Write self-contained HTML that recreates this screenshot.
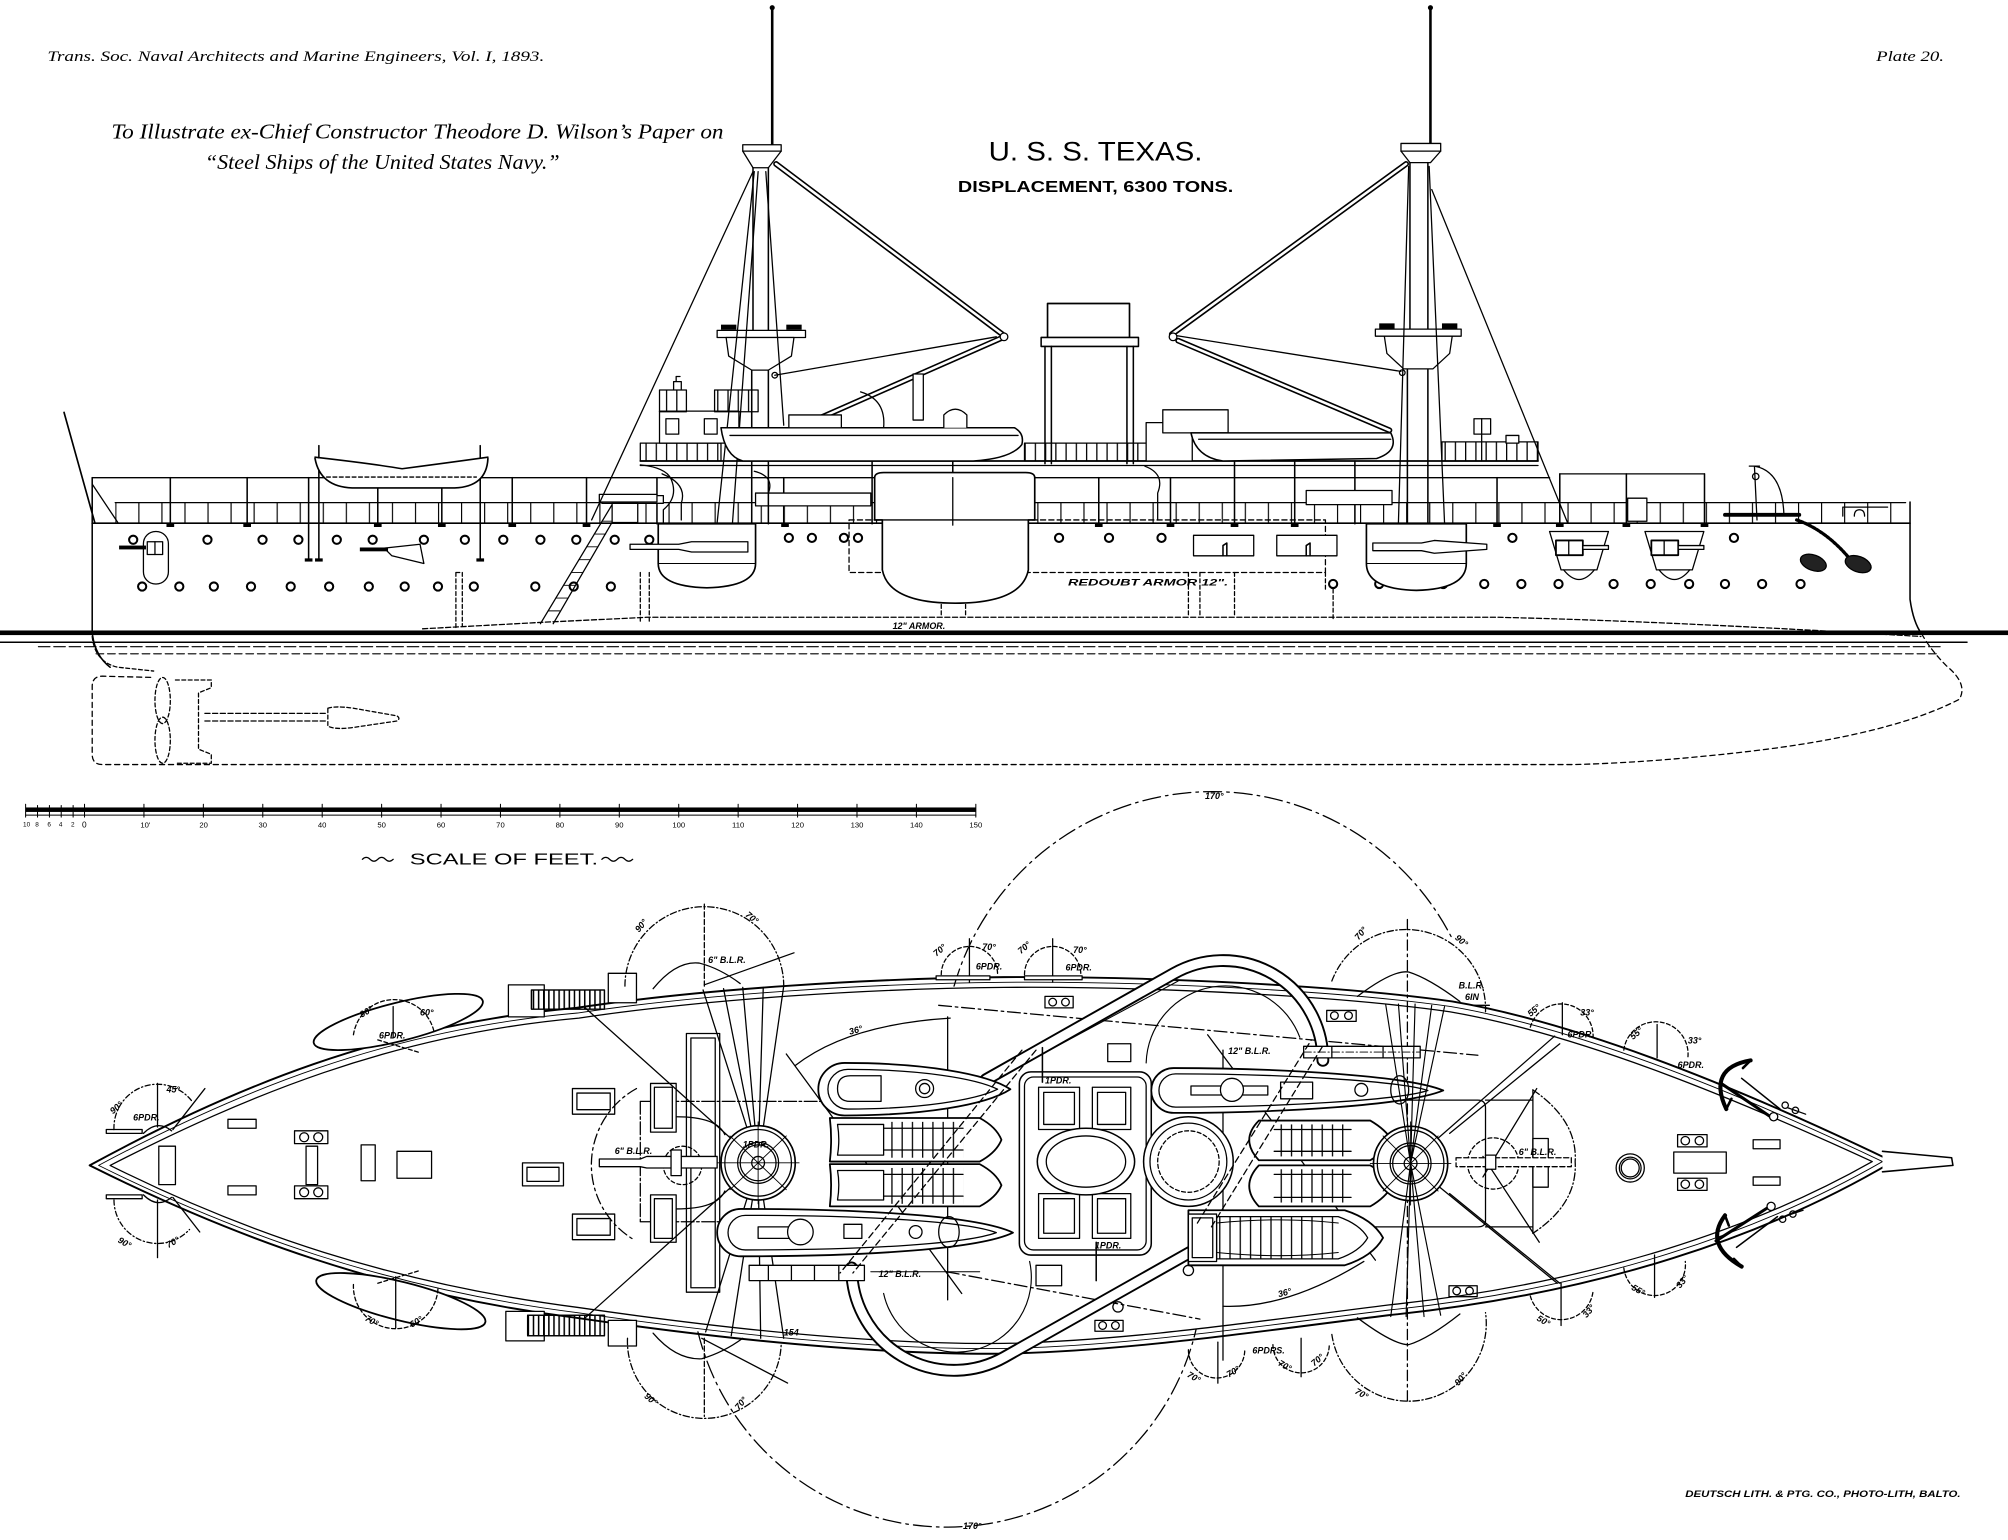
<!DOCTYPE html>
<html><head><meta charset="utf-8"><title>U.S.S. Texas - Plate 20</title>
<style>
html,body{margin:0;padding:0;background:#fff;}
svg{display:block;}
.sr{font-family:"Liberation Serif",serif;font-style:italic;fill:#000;stroke:none;}
.ss{font-family:"Liberation Sans",sans-serif;fill:#000;stroke:none;}
.lb{font-family:"Liberation Sans",sans-serif;font-style:italic;font-weight:bold;font-size:7px;fill:#000;stroke:none;}
.sc{font-family:"Liberation Sans",sans-serif;font-size:6px;fill:#000;stroke:none;}
</style></head><body>
<svg width="2008" height="1540" viewBox="0 0 1568 1202.5" preserveAspectRatio="none" xmlns="http://www.w3.org/2000/svg">
<defs>
<pattern id="vg" width="18" height="40" patternUnits="userSpaceOnUse"><rect x="0" y="0" width="0.9" height="40" fill="#000"/></pattern>
<pattern id="vg2" width="8" height="40" patternUnits="userSpaceOnUse"><rect x="0" y="0" width="1" height="40" fill="#000"/></pattern>
<pattern id="vg3" width="4" height="40" patternUnits="userSpaceOnUse"><rect x="0" y="0" width="1.2" height="40" fill="#000"/></pattern>
</defs>
<rect x="0" y="0" width="1568" height="1202.5" fill="#fff"/>

<!-- ================= HEADER TEXT ================= -->
<text class="sr" x="37" y="47.5" font-size="11.5" textLength="388" lengthAdjust="spacingAndGlyphs">Trans. Soc. Naval Architects and Marine Engineers, Vol. I, 1893.</text>
<text class="sr" x="1465" y="47.5" font-size="11.5" textLength="53" lengthAdjust="spacingAndGlyphs">Plate 20.</text>
<text class="sr" x="87" y="108" font-size="16.5" textLength="478" lengthAdjust="spacingAndGlyphs">To Illustrate ex-Chief Constructor Theodore D. Wilson’s Paper on</text>
<text class="sr" x="160" y="132" font-size="16.5" textLength="277" lengthAdjust="spacingAndGlyphs">“Steel Ships of the United States Navy.”</text>
<text class="ss" x="772" y="125.5" font-size="21" textLength="167" lengthAdjust="spacingAndGlyphs">U. S. S. TEXAS.</text>
<text class="ss" x="748" y="150" font-size="12.5" font-weight="bold" textLength="215" lengthAdjust="spacingAndGlyphs">DISPLACEMENT, 6300 TONS.</text>

<g fill="none" stroke="#000" stroke-width="1" stroke-linecap="round" stroke-linejoin="round">

<!-- ================= SIDE ELEVATION ================= -->
<rect x="0" y="492.3" width="1568" height="3.6" fill="#000" stroke="none"/>
<line x1="0" y1="501.5" x2="1536" y2="501.5" stroke-width="1.1"/>
<line x1="30" y1="505" x2="1515" y2="505" stroke-dasharray="9 3" stroke-width="0.9"/>
<line x1="75" y1="510.5" x2="1512" y2="510.5" stroke-dasharray="6 3" stroke-width="0.9"/>

<path d="M1500.6,495 Q1508,508 1520,520 Q1537,534 1530,546 Q1480,572 1380,585 Q1300,595 1230,597 L80,597 Q72,597 72,589 L72,536 Q72,528 80,528 L120,529" stroke-dasharray="4 3"/>
<path d="M72,497 Q74,517 92,521 L120,524" stroke-dasharray="3 2"/>
<ellipse cx="127" cy="547" rx="6" ry="18" stroke-dasharray="3 2"/>
<ellipse cx="127" cy="578" rx="6" ry="18" stroke-dasharray="3 2"/>
<path d="M137,531 L165,531 L165,537 L155,541 L155,585 L165,589 L165,596 L137,596" stroke-dasharray="3 2"/>
<line x1="160" y1="557" x2="256" y2="557" stroke-dasharray="4 2"/>
<line x1="160" y1="563" x2="256" y2="563" stroke-dasharray="4 2"/>
<path d="M256,553 Q262,551 276,553 L310,559 Q313,561 310,563 L276,568 Q262,570 256,567 Z" stroke-dasharray="3 2"/>

<path d="M72,373 L72,494 Q74,512 86,521" stroke-width="1.2"/>
<path d="M1491.5,392 L1491.5,468 Q1494,486 1500.6,495" stroke-width="1.2"/>
<line x1="72" y1="373" x2="1210" y2="373" stroke-width="1.1"/>
<line x1="1218" y1="370" x2="1331" y2="370"/>
<line x1="90" y1="392.5" x2="1488" y2="392.5"/>
<line x1="72" y1="408.5" x2="1491.5" y2="408.5" stroke-width="1.3"/>
<rect x="90" y="392.5" width="1398" height="16" fill="url(#vg)" stroke="none"/>
<g stroke-width="1.2">
<line x1="133" y1="373" x2="133" y2="409"/><line x1="193" y1="373" x2="193" y2="409"/>
<line x1="241" y1="373" x2="241" y2="437"/><line x1="249" y1="348" x2="249" y2="437"/>
<line x1="295" y1="373" x2="295" y2="409"/><line x1="345" y1="373" x2="345" y2="409"/>
<line x1="375" y1="348" x2="375" y2="437"/><line x1="400" y1="373" x2="400" y2="409"/>
<line x1="458" y1="373" x2="458" y2="409"/><line x1="513" y1="373" x2="513" y2="409"/>
<line x1="612" y1="373" x2="612" y2="409"/><line x1="681" y1="360" x2="681" y2="409"/>
<line x1="744" y1="360" x2="744" y2="409"/><line x1="800" y1="373" x2="800" y2="409"/>
<line x1="858" y1="373" x2="858" y2="409"/><line x1="914" y1="373" x2="914" y2="409"/>
<line x1="964" y1="360" x2="964" y2="409"/><line x1="1011" y1="360" x2="1011" y2="409"/>
<line x1="1058" y1="360" x2="1058" y2="409"/><line x1="1169" y1="373" x2="1169" y2="409"/>
<line x1="1218" y1="370" x2="1218" y2="409"/><line x1="1270" y1="370" x2="1270" y2="409"/>
<line x1="1331" y1="370" x2="1331" y2="409"/>
</g>
<g fill="#000" stroke="none">
<rect x="130" y="409" width="6" height="2.5"/><rect x="190" y="409" width="6" height="2.5"/><rect x="238" y="436" width="6" height="2.5"/><rect x="246" y="436" width="6" height="2.5"/><rect x="292" y="409" width="6" height="2.5"/><rect x="342" y="409" width="6" height="2.5"/><rect x="372" y="436" width="6" height="2.5"/><rect x="397" y="409" width="6" height="2.5"/><rect x="455" y="409" width="6" height="2.5"/><rect x="610" y="409" width="6" height="2.5"/><rect x="855" y="409" width="6" height="2.5"/><rect x="911" y="409" width="6" height="2.5"/><rect x="961" y="409" width="6" height="2.5"/><rect x="1008" y="409" width="6" height="2.5"/><rect x="1166" y="409" width="6" height="2.5"/><rect x="1215" y="409" width="6" height="2.5"/><rect x="1267" y="409" width="6" height="2.5"/><rect x="1328" y="409" width="6" height="2.5"/>
</g>

<line x1="50" y1="322" x2="74" y2="408" stroke-width="1.3"/>
<line x1="72" y1="378" x2="92" y2="408"/>

<g fill="#fff" stroke-width="1.6">
<circle cx="104" cy="421.5" r="3.2"/><circle cx="162" cy="421.5" r="3.2"/><circle cx="205" cy="421.5" r="3.2"/><circle cx="233" cy="421.5" r="3.2"/><circle cx="263" cy="421.5" r="3.2"/><circle cx="291" cy="421.5" r="3.2"/><circle cx="331" cy="421.5" r="3.2"/><circle cx="363" cy="421.5" r="3.2"/><circle cx="393" cy="421.5" r="3.2"/><circle cx="422" cy="421.5" r="3.2"/><circle cx="450" cy="421.5" r="3.2"/><circle cx="480" cy="421.5" r="3.2"/><circle cx="507" cy="421.5" r="3.2"/><circle cx="616" cy="420" r="3.2"/><circle cx="634" cy="420" r="3.2"/><circle cx="659" cy="420" r="3.2"/><circle cx="670" cy="420" r="3.2"/><circle cx="827" cy="420" r="3.2"/><circle cx="866" cy="420" r="3.2"/><circle cx="907" cy="420" r="3.2"/><circle cx="1181" cy="420" r="3.2"/><circle cx="1354" cy="420" r="3.2"/>
<circle cx="111" cy="458" r="3.2"/><circle cx="140" cy="458" r="3.2"/><circle cx="167" cy="458" r="3.2"/><circle cx="196" cy="458" r="3.2"/><circle cx="227" cy="458" r="3.2"/><circle cx="257" cy="458" r="3.2"/><circle cx="288" cy="458" r="3.2"/><circle cx="316" cy="458" r="3.2"/><circle cx="342" cy="458" r="3.2"/><circle cx="370" cy="458" r="3.2"/><circle cx="418" cy="458" r="3.2"/><circle cx="448" cy="458" r="3.2"/><circle cx="477" cy="458" r="3.2"/>
<circle cx="1041" cy="456" r="3.2"/><circle cx="1077" cy="456" r="3.2"/><circle cx="1108" cy="456" r="3.2"/><circle cx="1127" cy="456" r="3.2"/><circle cx="1159" cy="456" r="3.2"/><circle cx="1188" cy="456" r="3.2"/><circle cx="1217" cy="456" r="3.2"/><circle cx="1260" cy="456" r="3.2"/><circle cx="1289" cy="456" r="3.2"/><circle cx="1319" cy="456" r="3.2"/><circle cx="1347" cy="456" r="3.2"/><circle cx="1376" cy="456" r="3.2"/><circle cx="1406" cy="456" r="3.2"/>
</g>

<rect x="112" y="415" width="19.5" height="41" rx="9.5" fill="#fff"/>
<rect x="93" y="426" width="21" height="3" fill="#000" stroke="none"/>
<rect x="115" y="423" width="12" height="10" fill="#fff"/>
<line x1="121" y1="423" x2="121" y2="433"/>
<path d="M300,428 L328,425 L331,440 L306,434 Z" fill="#fff"/>
<rect x="281" y="427.5" width="22" height="3" fill="#000" stroke="none"/>

<line x1="422" y1="487" x2="478" y2="394"/>
<line x1="432" y1="487" x2="486" y2="394"/>
<path d="M428,477 L437,477 M434,467 L443,467 M440,457 L449,457 M446,447 L455,447 M452,437 L461,437 M458,427 L467,427 M464,417 L473,417 M470,407 L479,407" stroke-width="0.7"/>
<rect x="470" y="387" width="48" height="6" fill="#fff"/>
<rect x="478" y="393" width="20" height="15" fill="#fff"/>
<path d="M500,363 Q520,365 524,374 Q530,388 518,398 L518,408"/>

<path d="M330,491 L422,486 L505,482 L1170,482 Q1300,485 1500,497" stroke-dasharray="4 2"/>
<rect x="663" y="406" width="372" height="41" stroke-dasharray="4 2.5"/>
<path d="M356,447 L356,490 M361,447 L361,489 M356,447 L361,447 M500,447 L500,485 M507,447 L507,485 M735,447 L735,482 M754,447 L754,482 M928,447 L928,482 M937,447 L937,482 M964,447 L964,482 M1041,460 L1041,485 M1035,447 L1035,460" stroke-dasharray="3 2"/>
<text class="lb" x="697" y="491">12" ARMOR.</text>
<text class="lb" x="834" y="457" font-size="8" textLength="125" lengthAdjust="spacingAndGlyphs">REDOUBT ARMOR 12".</text>

<path d="M246,358 Q250,380 275,381 L355,381 Q380,380 381,358" fill="#fff" stroke-width="1.3"/>
<path d="M246,357 Q290,362 314,366 Q345,362 381,357" stroke-width="1.2"/>
<line x1="255" y1="372.5" x2="372" y2="372.5" stroke-dasharray="3 2"/>

<line x1="500" y1="360" x2="1201" y2="360" stroke-width="1.4"/>
<line x1="500" y1="363.5" x2="1201" y2="363.5"/>
<rect x="500" y="346" width="63" height="14" fill="url(#vg2)"/>
<rect x="800" y="346" width="95" height="14" fill="url(#vg2)"/>
<rect x="1126" y="345" width="75" height="15" fill="url(#vg2)"/>
<rect x="515" y="321" width="62" height="25" fill="#fff"/>
<rect x="520" y="327" width="10" height="12"/><rect x="550" y="327" width="10" height="12"/>
<rect x="515" y="304.5" width="21" height="17" fill="url(#vg2)"/>
<rect x="558" y="304.5" width="34" height="17" fill="url(#vg2)"/>
<path d="M526,304 L526,298 L532,298 L532,304 M528,298 L528,294 L531,294"/>
<path d="M589,368 Q605,372 600,385 M894,364 Q910,370 904,385 L904,406 M517,370 Q537,378 532,393 L532,406" />
<rect x="590" y="385" width="90" height="10" fill="#fff"/>
<rect x="468" y="386" width="45" height="6" fill="#fff"/>
<rect x="1020" y="383" width="67" height="11" fill="#fff"/>

<rect x="818" y="237" width="64" height="27" fill="#fff" stroke-width="1.3"/>
<rect x="813" y="263.5" width="76" height="7" fill="#fff" stroke-width="1.2"/>
<path d="M816,270.5 L816,362 M821,270.5 L821,362 M880,270.5 L880,362 M885,270.5 L885,362" stroke-width="1.2"/>

<!-- aft mast -->
<line x1="603" y1="6" x2="603" y2="113" stroke-width="2"/>
<circle cx="603" cy="6" r="1.5" fill="#000"/>
<path d="M580,113 L610,113 L610,118 L600,131 L588,131 L580,118 Z" fill="#fff"/>
<line x1="580" y1="118" x2="610" y2="118"/>
<path d="M588,131 L588,260 M600,131 L600,260 M587,289 L587,409 M600,289 L600,409" stroke-width="1.2"/>
<rect x="560" y="258" width="69" height="5.5" fill="#fff"/>
<path d="M567,263.5 L620,263.5 L618,278 L600,289 L587,289 L569,278 Z" fill="#fff"/>
<rect x="563" y="253.5" width="12" height="4" fill="#000" stroke="none"/><rect x="614" y="253.5" width="12" height="4" fill="#000" stroke="none"/>
<line x1="588" y1="134" x2="462" y2="406"/>
<line x1="589" y1="134" x2="560" y2="408"/><line x1="592" y1="134" x2="572" y2="408"/>
<line x1="598" y1="134" x2="612" y2="332"/>
<line x1="606" y1="128" x2="784" y2="262" stroke-width="4.5"/>
<line x1="606" y1="128" x2="784" y2="262" stroke-width="2" stroke="#fff"/>
<line x1="632" y1="330" x2="782" y2="264" stroke-width="4.5"/>
<line x1="632" y1="330" x2="782" y2="264" stroke-width="2" stroke="#fff"/>
<line x1="778" y1="263" x2="605" y2="293"/>
<circle cx="784" cy="263" r="3" fill="#fff"/>
<circle cx="605" cy="293" r="2.2"/>

<!-- fwd mast -->
<line x1="1117" y1="6" x2="1117" y2="112" stroke-width="2"/>
<circle cx="1117" cy="6" r="1.5" fill="#000"/>
<path d="M1094,112 L1125,112 L1125,118 L1117,127 L1101,127 L1094,118 Z" fill="#fff"/>
<line x1="1094" y1="118" x2="1125" y2="118"/>
<path d="M1101,127 L1101,258 M1115,127 L1115,258 M1099,288 L1099,409 M1115,288 L1115,409" stroke-width="1.2"/>
<rect x="1074" y="257" width="67" height="5.5" fill="#fff"/>
<path d="M1081,262.5 L1134,262.5 L1132,276 L1119,288 L1096,288 L1083,276 Z" fill="#fff"/>
<rect x="1077" y="252.5" width="12" height="4" fill="#000" stroke="none"/><rect x="1126" y="252.5" width="12" height="4" fill="#000" stroke="none"/>
<line x1="1118" y1="148" x2="1224" y2="408"/>
<line x1="1100" y1="130" x2="1092" y2="408"/><line x1="1116" y1="130" x2="1128" y2="408"/>
<line x1="1098" y1="128" x2="915" y2="261" stroke-width="4.5"/>
<line x1="1098" y1="128" x2="915" y2="261" stroke-width="2" stroke="#fff"/>
<line x1="920" y1="266" x2="1085" y2="336" stroke-width="4.5"/>
<line x1="920" y1="266" x2="1085" y2="336" stroke-width="2" stroke="#fff"/>
<line x1="918" y1="262" x2="1094" y2="290"/>
<circle cx="916" cy="263" r="3" fill="#fff"/>
<circle cx="1095" cy="291" r="2.2"/>

<path d="M563,334 L792,334 Q800,338 798,347 Q790,358 760,360 L580,360 Q566,356 563,334 Z" fill="#fff" stroke-width="1.2"/>
<line x1="570" y1="340" x2="795" y2="340"/>
<rect x="616" y="324" width="41" height="10" fill="#fff"/>
<rect x="713" y="292" width="8" height="36" fill="#fff"/>
<path d="M737,334 L737,324 Q746,315 755,324 L755,334" fill="#fff"/>
<path d="M672,306 Q692,312 690,334"/>
<rect x="895" y="330" width="36" height="30" fill="#fff"/>
<rect x="908" y="320" width="51" height="18" fill="#fff"/>
<path d="M930,338 L1086,338 Q1093,352 1075,358 L955,360 Q934,357 930,338 Z" fill="#fff" stroke-width="1.2"/>
<line x1="936" y1="343" x2="1086" y2="343"/>
<rect x="1151" y="327" width="13" height="12" fill="#fff"/><line x1="1157" y1="327" x2="1157" y2="360"/>
<rect x="1176" y="340" width="10" height="6" fill="#fff"/>

<path d="M514,409 L590,409 L590,440 Q590,458 552,459 Q514,458 514,440 Z" fill="#fff" stroke-width="1.3"/>
<line x1="514" y1="440" x2="590" y2="440" stroke-width="0.7"/>
<path d="M492,425 L530,425 L540,423 L584,423 L584,431 L540,431 L530,429 L492,429 Z" fill="#fff"/>
<path d="M683,373 Q683,369 690,369 L801,369 Q808,369 808,373 L808,406 L803,406 L803,445 Q798,471 746,471 Q694,471 689,445 L689,406 L683,406 Z" fill="#fff" stroke-width="1.3"/>
<line x1="683" y1="406" x2="808" y2="406"/>
<line x1="744" y1="373" x2="744" y2="410"/>
<path d="M1067,409 L1145,409 L1145,440 Q1145,460 1106,461 Q1067,460 1067,440 Z" fill="#fff" stroke-width="1.3"/>
<line x1="1067" y1="440" x2="1145" y2="440" stroke-width="0.7"/>
<path d="M1072,424 L1110,424 L1120,422 L1161,425 L1161,429 L1120,432 L1110,430 L1072,430 Z" fill="#fff"/>
<rect x="932" y="418" width="47" height="16" fill="#fff"/><path d="M955,434 L955,426 L958,424 L958,434" stroke-width="1.2"/>
<rect x="997" y="418" width="47" height="16" fill="#fff"/><path d="M1020,434 L1020,426 L1023,424 L1023,434" stroke-width="1.2"/>
<path d="M1210,415 L1256,415 L1247,445 L1219,445 Z" fill="#fff"/>
<path d="M1221,445 Q1233,460 1245,445"/>
<rect x="1215" y="422" width="21" height="11.5" fill="#fff" stroke-width="1.4"/>
<line x1="1225" y1="422" x2="1225" y2="433.5"/>
<rect x="1236" y="426" width="20" height="3" fill="#fff"/>
<path d="M1284.5,415 L1330.5,415 L1321.5,445 L1293.5,445 Z" fill="#fff"/>
<path d="M1295.5,445 Q1307.5,460 1319.5,445"/>
<rect x="1289.5" y="422" width="21" height="11.5" fill="#fff" stroke-width="1.4"/>
<line x1="1299.5" y1="422" x2="1299.5" y2="433.5"/>
<rect x="1310.5" y="426" width="20" height="3" fill="#fff"/>
<rect x="1271" y="389" width="15" height="18" fill="#fff"/>
<path d="M1347,402 L1405,402" stroke-width="3"/>
<path d="M1370,364 L1372,406 M1370,364 Q1392,368 1393,402 M1366,364 L1374,364"/>
<circle cx="1371" cy="372" r="2.5"/>
<path d="M1439,403 L1439,396 L1474,396 M1448,403 Q1448,398 1452,398 Q1456,398 1456,403"/>
<path d="M1403,406 Q1426,414 1445,437" stroke-width="2.6" stroke-dasharray="2 1.4"/>
<ellipse cx="1416" cy="439.4" rx="10.5" ry="6" transform="rotate(20 1416 439.4)" fill="#222"/>
<ellipse cx="1451" cy="440.5" rx="10.5" ry="6" transform="rotate(20 1451 440.5)" fill="#222"/>

<!-- ================= SCALE ================= -->
<rect x="20" y="630.5" width="742" height="3.5" fill="#000" stroke="none"/>
<line x1="20" y1="636.5" x2="762" y2="636.5" stroke-width="0.8"/>
<path d="M20,628 L20,638 M29.3,629 L29.3,638 M38.6,629 L38.6,638 M47.8,629 L47.8,638 M57.1,629 L57.1,638 M66,628 L66,638 M112.4,628 L112.4,638 M158.8,628 L158.8,638 M205.2,628 L205.2,638 M251.6,628 L251.6,638 M298,628 L298,638 M344.4,628 L344.4,638 M390.8,628 L390.8,638 M437.2,628 L437.2,638 M483.6,628 L483.6,638 M530,628 L530,638 M576.4,628 L576.4,638 M622.8,628 L622.8,638 M669.2,628 L669.2,638 M715.6,628 L715.6,638 M762,628 L762,638" stroke-width="0.8"/>
<path d="M283,671 q3,-3 6,0 q3,3 6,0 q3,-3 6,0 q3,3 6,0 M470,671 q3,-3 6,0 q3,3 6,0 q3,-3 6,0 q3,3 6,0" stroke-width="1"/>

<!-- ================= PLAN VIEW ================= -->
<path d="M745,770 A210,210 0 0 1 1134,733" stroke-dasharray="14 4 2 4"/>
<path d="M545,1040 A200,200 0 0 0 934,1038" stroke-dasharray="14 4 2 4"/>

<path d="M70,910 C180,850 300,800 450,787 C550,772 680,764 784,763 C900,762 1050,770 1134,782 C1240,800 1370,855 1478,907 C1380,965 1250,1010 1084,1027 C980,1040 880,1055 784,1057 C680,1058 560,1045 450,1029 C300,1010 180,965 70,910 Z" stroke-width="1.5"/>
<path d="M77,910 C184,853 302,804 451,791 C551,776 680,768 784,767 C900,766 1049,774 1133,786 C1238,804 1365,857 1470,907 C1376,961 1248,1006 1084,1023 C980,1036 880,1051 784,1053 C680,1054 561,1041 451,1025 C302,1006 184,963 77,910 Z" stroke-width="0.7"/>
<path d="M86,910 C190,857 305,808 452,795 C552,780 680,772 784,771 C900,770 1048,778 1132,790 C1236,808 1360,860 1462,907 C1372,958 1246,1002 1084,1019 C980,1032 880,1047 784,1049 C680,1050 562,1037 452,1021 C305,1002 190,962 86,910 Z" stroke-width="1"/>
<path d="M1470,899 L1524,904 L1525,910 L1470,915" fill="#fff" stroke-width="1.2"/>

<rect x="83" y="882" width="28" height="3" fill="#fff"/>
<rect x="83" y="933" width="28" height="3" fill="#fff"/>
<path d="M112,885 Q123,874 134,883 M112,933 Q123,944 134,935"/>
<path d="M89,882 A34,34 0 0 1 150,860" stroke-dasharray="4 2 1 2"/>
<path d="M89,937 A34,34 0 0 0 148,960" stroke-dasharray="4 2 1 2"/>
<line x1="123" y1="846" x2="123" y2="880"/>
<line x1="123" y1="937" x2="123" y2="982"/>
<line x1="135" y1="882" x2="160" y2="850"/>
<line x1="135" y1="935" x2="156" y2="962"/>
<text class="lb" x="86" y="868" transform="rotate(-40 90 866)">90°</text>
<text class="lb" x="130" y="853">45°</text>
<text class="lb" x="104" y="875">6PDR.</text>
<text class="lb" x="92" y="972" transform="rotate(30 96 970)">90°</text>
<text class="lb" x="130" y="973" transform="rotate(-30 134 971)">70°</text>

<rect x="124" y="895" width="13" height="30"/>
<rect x="178" y="874" width="22" height="7"/><rect x="178" y="926" width="22" height="7"/>
<rect x="230" y="883" width="26" height="10"/><circle cx="237.5" cy="888" r="3.5"/><circle cx="248.5" cy="888" r="3.5"/>
<rect x="230" y="926" width="26" height="10"/><circle cx="237.5" cy="931" r="3.5"/><circle cx="248.5" cy="931" r="3.5"/>
<rect x="239" y="895" width="9" height="30"/>
<rect x="282" y="894" width="11" height="28"/>
<rect x="310" y="899" width="27" height="21"/>
<rect x="408" y="908" width="32" height="18"/><rect x="411.5" y="911.5" width="25" height="11"/>
<rect x="447" y="850" width="33" height="20"/><rect x="450.5" y="853.5" width="26" height="13"/>
<rect x="447" y="948" width="33" height="20"/><rect x="450.5" y="951.5" width="26" height="13"/>

<ellipse cx="311" cy="798" rx="68" ry="15" transform="rotate(-14 311 798)" fill="#fff" stroke-width="1.4"/>
<ellipse cx="313" cy="1016" rx="68" ry="15" transform="rotate(14 313 1016)" fill="#fff" stroke-width="1.4"/>
<path d="M276,808 A32,32 0 0 1 339,806" stroke-dasharray="3 2"/>
<line x1="307" y1="786" x2="307" y2="810"/>
<line x1="295" y1="812" x2="328" y2="822" stroke-dasharray="3 2"/>
<text class="lb" x="281" y="793" transform="rotate(-30 285 791)">90°</text>
<text class="lb" x="328" y="793">60°</text>
<text class="lb" x="296" y="811">6PDR.</text>
<path d="M276,1003 A33,33 0 0 0 342,1006" stroke-dasharray="3 2"/>
<line x1="309" y1="997" x2="309" y2="1037"/>
<line x1="295" y1="1002" x2="328" y2="992" stroke-dasharray="3 2"/>
<text class="lb" x="285" y="1033" transform="rotate(30 289 1031)">70°</text>
<text class="lb" x="320" y="1035" transform="rotate(-30 324 1033)">60°</text>

<rect x="397" y="769" width="28" height="25" fill="#fff"/>
<rect x="415" y="773" width="57" height="15" fill="url(#vg3)"/><rect x="415" y="773" width="57" height="15"/>
<rect x="475" y="760" width="22" height="23" fill="#fff"/>
<rect x="395" y="1024" width="30" height="23" fill="#fff"/>
<rect x="412" y="1027" width="60" height="16" fill="url(#vg3)"/><rect x="412" y="1027" width="60" height="16"/>
<rect x="475" y="1031" width="22" height="20" fill="#fff"/>

<path d="M510,772 Q528,750 546,752 Q562,756 578,768"/>
<path d="M510,1041 Q528,1062 548,1061 Q565,1056 580,1045"/>
<path d="M488,770 A62,62 0 0 1 612,770" stroke-dasharray="5 2 1 2"/>
<path d="M490,1045 A60,60 0 0 0 610,1050" stroke-dasharray="5 2 1 2"/>
<line x1="550" y1="706" x2="550" y2="770" stroke-dasharray="4 2"/>
<line x1="550" y1="1045" x2="550" y2="1106" stroke-dasharray="4 2"/>
<line x1="550" y1="769" x2="620" y2="744"/>
<line x1="548" y1="1045" x2="615" y2="1080"/>
<text class="lb" x="496" y="726" transform="rotate(-50 500 724)">90°</text>
<text class="lb" x="582" y="718" transform="rotate(40 586 716)">70°</text>
<text class="lb" x="553" y="752">6" B.L.R.</text>
<text class="lb" x="503" y="1094" transform="rotate(40 507 1092)">90°</text>
<text class="lb" x="574" y="1099" transform="rotate(-50 578 1097)">70°</text>

<path d="M735,761 A22,22 0 0 1 779,761" stroke-dasharray="3 2"/>
<path d="M800,761 A22,22 0 0 1 844,761" stroke-dasharray="3 2"/>
<line x1="757" y1="733" x2="757" y2="767"/><line x1="822" y1="733" x2="822" y2="767"/>
<rect x="731" y="762" width="42" height="3" fill="#fff"/><rect x="800" y="762" width="45" height="3" fill="#fff"/>
<text class="lb" x="729" y="745" transform="rotate(-40 733 743)">70°</text>
<text class="lb" x="767" y="742">70°</text>
<text class="lb" x="762" y="757">6PDR.</text>
<text class="lb" x="795" y="743" transform="rotate(-40 799 741)">70°</text>
<text class="lb" x="838" y="744">70°</text>
<text class="lb" x="832" y="758">6PDR.</text>

<path d="M928,1054 A22,22 0 0 0 972,1054" stroke-dasharray="3 2"/>
<path d="M994,1050 A22,22 0 0 0 1038,1050" stroke-dasharray="3 2"/>
<line x1="951" y1="1048" x2="951" y2="1080"/><line x1="1016" y1="1045" x2="1016" y2="1075"/>
<text class="lb" x="927" y="1077" transform="rotate(30 931 1075)">70°</text>
<text class="lb" x="958" y="1074" transform="rotate(-30 962 1072)">70°</text>
<text class="lb" x="978" y="1057">6PDRS.</text>
<text class="lb" x="998" y="1068" transform="rotate(30 1002 1066)">70°</text>
<text class="lb" x="1024" y="1065" transform="rotate(-40 1028 1063)">70°</text>

<path d="M1060,778 Q1088,757 1100,759 Q1116,764 1140,782"/>
<path d="M1060,1029 Q1088,1050 1100,1050 Q1116,1045 1140,1026"/>
<path d="M1040,766 A62,62 0 0 1 1160,790" stroke-dasharray="5 2 1 2"/>
<path d="M1040,1042 A60,60 0 0 0 1160,1025" stroke-dasharray="5 2 1 2"/>
<line x1="1099" y1="718" x2="1099" y2="1096" stroke-dasharray="8 3 2 3"/>
<line x1="1150" y1="785" x2="1163" y2="785"/>
<text class="lb" x="1058" y="732" transform="rotate(-50 1062 730)">70°</text>
<text class="lb" x="1136" y="736" transform="rotate(40 1140 734)">90°</text>
<text class="lb" x="1139" y="772">B.L.R.</text>
<text class="lb" x="1144" y="781">6IN</text>
<text class="lb" x="1058" y="1090" transform="rotate(30 1062 1088)">70°</text>
<text class="lb" x="1136" y="1080" transform="rotate(-50 1140 1078)">90°</text>

<path d="M1195,802 A25,25 0 0 1 1244,810" stroke-dasharray="3 2"/>
<path d="M1268,820 A25,25 0 0 1 1318,826" stroke-dasharray="3 2"/>
<line x1="1220" y1="783" x2="1220" y2="808"/><line x1="1294" y1="800" x2="1294" y2="826"/>
<text class="lb" x="1193" y="792" transform="rotate(-40 1197 790)">55°</text>
<text class="lb" x="1234" y="793">33°</text>
<text class="lb" x="1224" y="810">6PDR.</text>
<text class="lb" x="1273" y="810" transform="rotate(-40 1277 808)">55°</text>
<text class="lb" x="1318" y="815">33°</text>
<text class="lb" x="1310" y="834">6PDR.</text>
<path d="M1195,1012 A25,25 0 0 0 1244,1008" stroke-dasharray="3 2"/>
<path d="M1268,990 A24,24 0 0 0 1316,985" stroke-dasharray="3 2"/>
<line x1="1219" y1="1002" x2="1219" y2="1035"/><line x1="1292" y1="980" x2="1292" y2="1013"/>
<text class="lb" x="1200" y="1033" transform="rotate(30 1204 1031)">50°</text>
<text class="lb" x="1236" y="1027" transform="rotate(-50 1240 1025)">33°</text>
<text class="lb" x="1274" y="1009" transform="rotate(30 1278 1007)">55°</text>
<text class="lb" x="1309" y="1004" transform="rotate(-50 1313 1002)">33°</text>

<circle cx="1273" cy="912" r="11"/><circle cx="1273" cy="912" r="8.5"/><circle cx="1273" cy="912" r="7"/>
<rect x="1310" y="886" width="23" height="9.5"/><circle cx="1316" cy="890.7" r="3.3"/><circle cx="1327" cy="890.7" r="3.3"/>
<rect x="1307" y="899.5" width="41" height="16.5"/>
<rect x="1310" y="920" width="23" height="9.5"/><circle cx="1316" cy="924.7" r="3.3"/><circle cx="1327" cy="924.7" r="3.3"/>
<rect x="1369" y="890" width="21" height="7"/><rect x="1369" y="919" width="21" height="6.5"/>

<!-- anchors -->
<path d="M1367,828 Q1333,834 1348,866" stroke-width="3.2"/>
<path d="M1367,828 L1361,834 M1348,866 L1352,858" stroke-width="2"/>
<path d="M1344,846 L1384,873" stroke-width="2.4"/>
<path d="M1360,842 L1390,866" stroke-width="1.2"/>
<circle cx="1385" cy="872" r="3.2" fill="#fff"/>
<circle cx="1394" cy="863" r="2.5"/><circle cx="1402" cy="867" r="2.5"/>
<line x1="1396" y1="865" x2="1410" y2="870"/>
<path d="M1347,949 Q1330,972 1360,989" stroke-width="3.2"/>
<path d="M1347,949 L1350,957 M1360,989 L1354,983" stroke-width="2"/>
<path d="M1340,969 L1382,942" stroke-width="2.4"/>
<path d="M1356,974 L1388,950" stroke-width="1.2"/>
<circle cx="1383" cy="942" r="3.2" fill="#fff"/>
<circle cx="1392" cy="952" r="2.5"/><circle cx="1400" cy="948" r="2.5"/>
<line x1="1393" y1="950" x2="1408" y2="945"/>

<path d="M960,859 L1154,859 Q1160,859 1160,865 L1160,953 Q1160,958 1154,958 L960,958"/>
<path d="M1160,859 L1197,859 M1160,958 L1197,958 M1197,851 L1197,963"/>
<path d="M1197,851 Q1232,875 1230,907 Q1232,940 1197,963" stroke-dasharray="6 2 1 2"/>
<rect x="1197" y="889" width="12" height="38"/>
<line x1="1132" y1="885" x2="1218" y2="815"/>
<line x1="1132" y1="932" x2="1218" y2="1002"/>
<line x1="1214" y1="809" x2="1101" y2="908"/>
<line x1="1216" y1="1002" x2="1101" y2="908"/>
<line x1="1200" y1="850" x2="1158" y2="919"/>
<line x1="1158" y1="903" x2="1202" y2="970"/>
<circle cx="1166" cy="908.5" r="20" stroke-dasharray="3 2"/>
<path d="M1137,904 L1227,904 L1227,911 L1137,911 Z" fill="#fff" stroke-dasharray="4 2"/>
<rect x="1160" y="902" width="8" height="11" fill="#fff"/>
<text class="lb" x="1186" y="902">6" B.L.R.</text>

<path d="M500,860 L643,860 M500,954 L643,954 M500,860 L500,954" stroke-dasharray="10 2 2 2"/>
<rect x="536" y="807" width="26" height="202"/><rect x="539.5" y="810.5" width="19" height="195"/>
<rect x="508" y="846" width="20" height="38" fill="#fff"/><rect x="511" y="849" width="14" height="32"/>
<rect x="508" y="933" width="20" height="37" fill="#fff"/><rect x="511" y="936" width="14" height="31"/>
<path d="M528,872 Q560,872 566,886 M528,944 Q560,944 566,930"/>
<path d="M497,850 A68,68 0 0 0 495,968" stroke-dasharray="8 3 2 3"/>
<line x1="457" y1="787" x2="592" y2="908"/>
<line x1="457" y1="1029" x2="592" y2="908"/>
<path d="M592,908 L549,773 M592,908 L565,772 M592,908 L580,771 M592,908 L596,771 M592,908 L612,770 M592,908 L551,1040 M592,908 L571,1043 M592,908 L594,1045 M592,908 L612,1045"/>
<circle cx="533" cy="910" r="15" stroke-dasharray="3 2"/>
<path d="M468,905 L500,905 L505,903 L560,903 L560,912 L505,912 L500,911 L468,911 Z" fill="#fff"/>
<rect x="524" y="898" width="8" height="20" fill="#fff"/>
<text class="lb" x="480" y="901">6" B.L.R.</text>

<line x1="614" y1="823" x2="751" y2="1010"/>
<line x1="740" y1="794" x2="740" y2="1015"/>
<path d="M621,832 Q662,800 742,795"/>
<text class="lb" x="663" y="807" transform="rotate(-15 667 805)">36°</text>
<line x1="943" y1="808" x2="1074" y2="984"/>
<line x1="955" y1="820" x2="955" y2="1062"/>
<path d="M955,1020 Q1005,1022 1065,985"/>
<text class="lb" x="998" y="1012" transform="rotate(-15 1002 1010)">36°</text>

<line x1="733" y1="785" x2="1154" y2="824" stroke-dasharray="10 3 2 3"/>
<line x1="739" y1="993" x2="937" y2="1030" stroke-dasharray="10 3 2 3"/>

<!-- barbettes & diagonal superstructure -->
<path d="M770,843 L916.7,760.1 A78,78 0 0 1 1033,828" stroke-width="10"/>
<path d="M770,843 L916.7,760.1 A78,78 0 0 1 1033,828" stroke-width="7" stroke="#fff"/>
<path d="M665,990 A80,80 0 0 0 784.3,1059.7 L945,969" stroke-width="10"/>
<path d="M665,990 A80,80 0 0 0 784.3,1059.7 L945,969" stroke-width="7" stroke="#fff"/>
<path d="M895,830 A62,62 0 0 1 1015,810" stroke-width="0.9"/>
<path d="M804,985 A58,58 0 0 1 690,1010" stroke-width="0.9"/>
<line x1="801" y1="830" x2="920" y2="766" stroke-width="0.8"/>

<path d="M1018,817 L1109,817 L1109,826 L1018,826 Z M1040,817 L1040,826 M1080,817 L1080,826" fill="#fff"/>
<line x1="1018" y1="821.5" x2="1109" y2="821.5" stroke-dasharray="6 2 1 2" stroke-width="0.7"/>
<text class="lb" x="959" y="823" font-size="8">12" B.L.R.</text>
<path d="M585,988 L675,988 L675,1000 L585,1000 Z M600,988 L600,1000 M618,988 L618,1000 M636,988 L636,1000 M655,988 L655,1000" fill="#fff"/>
<text class="lb" x="686" y="997" font-size="8">12" B.L.R.</text>
<line x1="680" y1="993" x2="765" y2="993" stroke-width="0.8"/>

<rect x="796" y="837" width="103" height="143" rx="9" fill="#fff" stroke-width="1.2"/>
<rect x="800" y="841" width="95" height="135" rx="7"/>
<rect x="811" y="849" width="32" height="33"/><rect x="815" y="853" width="24" height="25"/>
<rect x="853" y="849" width="30" height="33"/><rect x="857" y="853" width="22" height="25"/>
<rect x="811" y="932" width="32" height="35"/><rect x="815" y="936" width="24" height="27"/>
<rect x="853" y="932" width="30" height="35"/><rect x="857" y="936" width="22" height="27"/>
<ellipse cx="848" cy="907" rx="38" ry="26" fill="#fff" stroke-width="1.2"/>
<ellipse cx="848" cy="907" rx="31" ry="20"/>
<circle cx="928" cy="907" r="35" fill="#fff" stroke-width="1.2"/>
<circle cx="928" cy="907" r="30"/>
<circle cx="928" cy="907" r="24" stroke-dasharray="3 2"/>
<text class="lb" x="816" y="846" font-size="6.5">1PDR.</text>
<text class="lb" x="855" y="975" font-size="6.5">1PDR.</text>

<rect x="865" y="815" width="18" height="14"/>
<rect x="809" y="988" width="20" height="16"/>
<rect x="816" y="778" width="22" height="9"/><circle cx="822" cy="782.5" r="3"/><circle cx="832" cy="782.5" r="3"/>
<rect x="1036" y="789" width="23" height="8.5"/><circle cx="1042" cy="793" r="3"/><circle cx="1053" cy="793" r="3"/>
<rect x="855" y="1031" width="22" height="8.5"/><circle cx="861" cy="1035" r="3"/><circle cx="871" cy="1035" r="3"/>
<rect x="1131.5" y="1004" width="22" height="8.5"/><circle cx="1137.5" cy="1008" r="3"/><circle cx="1147.5" cy="1008" r="3"/>
<circle cx="928" cy="992" r="4"/><circle cx="873" cy="1020.5" r="4"/>
<text class="lb" x="612" y="1043" font-size="6.5">154</text>

<path d="M659.5,830 C720,830 770,838 789,850.5 C770,863 720,871 659.5,871 A20.5,20.5 0 0 1 659.5,830 Z" fill="#fff" stroke-width="1.4"/>
<path d="M662,835 C718,835 762,842 779,850.5 C762,859 718,866 662,866 A15.5,15.5 0 0 1 662,835 Z"/>
<path d="M654,850 Q654,840 664,840 L688,840 L688,860 L664,860 Q654,860 654,850 Z"/>
<circle cx="722" cy="850" r="7"/><circle cx="722" cy="850" r="4"/>
<path d="M648,873 L765,873 Q778,880 782,890 Q778,900 765,907 L648,907 Q650,890 648,873 Z" fill="#fff" stroke-width="1.4"/>
<path d="M654,878 L690,878 L690,902 L654,902 Q656,890 654,878 Z"/>
<rect x="690" y="876" width="62" height="28" fill="url(#vg2)" stroke="none"/>
<line x1="690" y1="881" x2="752" y2="881"/><line x1="690" y1="898" x2="752" y2="898"/>
<path d="M648,909 L765,909 Q778,916 782,925.5 Q778,935 765,942 L648,942 Q650,925 648,909 Z" fill="#fff" stroke-width="1.4"/>
<path d="M654,914 L690,914 L690,937 L654,937 Q656,925 654,914 Z"/>
<rect x="690" y="912" width="62" height="28" fill="url(#vg2)" stroke="none"/>
<line x1="690" y1="917" x2="752" y2="917"/><line x1="690" y1="934" x2="752" y2="934"/>
<path d="M578.5,944 C680,944 765,950 791,962.5 C765,975 680,981 578.5,981 A18.5,18.5 0 0 1 578.5,944 Z" fill="#fff" stroke-width="1.4"/>
<path d="M582,949 C680,949 755,954 778,962.5 C755,971 680,976 582,976 A13.5,13.5 0 0 1 582,949 Z"/>
<rect x="592" y="958" width="40" height="9" fill="#fff"/>
<circle cx="625" cy="962" r="10" fill="#fff"/>
<rect x="659" y="956" width="14" height="11"/>
<circle cx="715" cy="962" r="5"/>
<ellipse cx="741" cy="962" rx="8" ry="12"/>

<path d="M916.5,834 C1000,834 1100,840 1127,851.5 C1100,863 1000,869 916.5,869 A17.5,17.5 0 0 1 916.5,834 Z" fill="#fff" stroke-width="1.4"/>
<path d="M918,838.5 C1000,838.5 1092,844 1115,851.5 C1092,859 1000,864.5 918,864.5 A13,13 0 0 1 918,838.5 Z"/>
<rect x="930" y="848" width="60" height="7" fill="#fff"/>
<circle cx="962" cy="851" r="9" fill="#fff"/>
<rect x="1000" y="845" width="25" height="13"/>
<circle cx="1063" cy="851" r="5"/>
<ellipse cx="1093" cy="851" rx="7" ry="11"/>
<path d="M983,875 L1070,875 Q1082,882 1087,890.5 Q1082,899 1070,906 L983,906 Q968,890 983,875 Z" fill="#fff" stroke-width="1.4"/>
<rect x="995" y="878" width="60" height="25" fill="url(#vg2)" stroke="none"/>
<line x1="995" y1="882" x2="1055" y2="882"/><line x1="995" y1="899" x2="1055" y2="899"/>
<path d="M983,910 L1070,910 Q1082,917 1087,926 Q1082,935 1070,942 L983,942 Q968,926 983,910 Z" fill="#fff" stroke-width="1.4"/>
<rect x="995" y="913" width="60" height="26" fill="url(#vg2)" stroke="none"/>
<line x1="995" y1="917" x2="1055" y2="917"/><line x1="995" y1="935" x2="1055" y2="935"/>
<path d="M928,945 L1050,945 Q1072,952 1080,966.5 Q1072,981 1050,988 L928,988 Z" fill="#fff" stroke-width="1.4"/>
<path d="M950,950 L1045,950 Q1062,956 1068,966.5 Q1062,977 1045,983 L950,983 Z"/>
<rect x="950" y="950" width="95" height="33" fill="url(#vg2)" stroke="none"/>
<path d="M950,955 Q1000,950 1045,955 M950,978 Q1000,983 1045,978" stroke-width="0.8"/>
<rect x="928" y="948" width="22" height="37" fill="#fff"/>
<rect x="931" y="951" width="16" height="31"/>

<circle cx="592" cy="908" r="29" fill="#fff" stroke-width="1.3"/>
<circle cx="592" cy="908" r="26"/>
<circle cx="592" cy="908" r="16"/><circle cx="592" cy="908" r="14"/>
<circle cx="592" cy="908" r="5"/>
<path d="M560,908 L624,908 M592,876 L592,940 M570,887 L614,929 M570,929 L614,887" stroke-width="0.7"/>
<circle cx="1101.5" cy="908.5" r="29" fill="#fff" stroke-width="1.3"/>
<circle cx="1101.5" cy="908.5" r="26"/>
<circle cx="1101.5" cy="908.5" r="16"/><circle cx="1101.5" cy="908.5" r="14"/>
<circle cx="1101.5" cy="908.5" r="5"/>
<path d="M1070,908.5 L1133,908.5 M1101.5,876 L1101.5,941 M1080,887 L1123,930 M1080,930 L1123,887" stroke-width="0.7"/>
<path d="M1101.5,908.5 L1082,784 M1101.5,908.5 L1092,784 M1101.5,908.5 L1105,784 M1101.5,908.5 L1118,785 M1101.5,908.5 L1128,786 M1101.5,908.5 L1086,1028 M1101.5,908.5 L1098,1028 M1101.5,908.5 L1112,1028 M1101.5,908.5 L1125,1027" stroke-width="0.9"/>
<text class="lb" x="580" y="896" font-size="6">1PDR.</text>

<line x1="809" y1="820" x2="666" y2="994" stroke-dasharray="5 3"/>
<line x1="798" y1="820" x2="656" y2="994" stroke-dasharray="5 3"/>
<line x1="935" y1="955" x2="1024" y2="812" stroke-dasharray="5 3"/>
<line x1="946" y1="958" x2="1034" y2="815" stroke-dasharray="5 3"/>
<line x1="814" y1="818" x2="814" y2="845" stroke-width="1.2"/>
<line x1="856" y1="970" x2="856" y2="1000" stroke-width="1.2"/>
</g>

<g class="sc">
<text x="18" y="645.5" font-size="5">10</text>
<text x="27.5" y="645.5" font-size="5">8</text>
<text x="37" y="645.5" font-size="5">6</text>
<text x="46" y="645.5" font-size="5">4</text>
<text x="55.5" y="645.5" font-size="5">2</text>
<text x="64" y="646" font-size="6.5">0</text>
</g>
<g class="sc" text-anchor="middle" font-size="6.5">
<text x="113.5" y="646">10'</text><text x="159" y="646">20</text><text x="205.2" y="646">30</text><text x="251.6" y="646">40</text><text x="298" y="646">50</text><text x="344.4" y="646">60</text><text x="390.8" y="646">70</text><text x="437.2" y="646">80</text><text x="483.6" y="646">90</text><text x="530" y="646">100</text><text x="576.4" y="646">110</text><text x="622.8" y="646">120</text><text x="669.2" y="646">130</text><text x="715.6" y="646">140</text><text x="762" y="646">150</text>
</g>
<text class="ss" x="320" y="675" font-size="12.5" textLength="147" lengthAdjust="spacingAndGlyphs">SCALE  OF  FEET.</text>
<text class="lb" x="941" y="624" font-size="10">170°</text>
<text class="lb" x="752" y="1194" font-size="10">170°</text>
<text class="lb" x="1316" y="1169" font-size="7" textLength="215" lengthAdjust="spacingAndGlyphs">DEUTSCH LITH. &amp; PTG. CO., PHOTO-LITH, BALTO.</text>
</svg>
</body></html>
